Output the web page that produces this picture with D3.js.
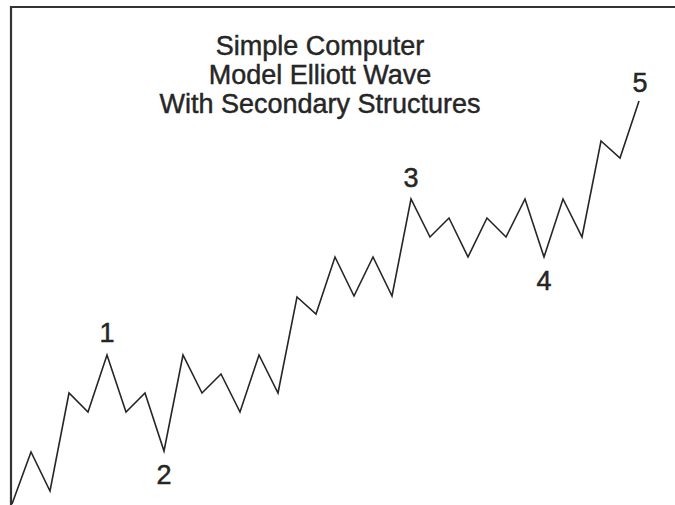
<!DOCTYPE html>
<html>
<head>
<meta charset="utf-8">
<script src="https://cdn.jsdelivr.net/npm/d3@7"></script>
<style>
  html, body { margin: 0; padding: 0; background: #fff; }
  svg { display: block; }
</style>
</head>
<body>
<svg id="chart" width="675" height="505"></svg>
<script>
// Wave swings: one value per turning point, in price units
const steps = d3.range(34);
const prices = [0, 52, 13, 111, 92, 149, 92, 111, 53, 149, 111, 130, 92, 149, 111,
  207, 190, 247, 208, 247, 208, 305, 267, 286, 247, 286, 267, 305, 247, 305, 267,
  363, 346, 403];
// Primary wave labels and the turning point each marks
const waveLabels = ["1", "2", "3", "4", "5"];
const waveSteps = [5, 8, 21, 28, 33];
const waveSide = ["top", "bottom", "top", "bottom", "top"];
const titleLines = ["Simple Computer", "Model Elliott Wave", "With Secondary Structures"];

const svg = d3.select("#chart");
const ink = "#262626";
const font = "Liberation Sans, Arial, Helvetica, sans-serif";

const x = d3.scaleLinear().domain([0, 33]).range([12, 639]);
const y = d3.scaleLinear().domain([0, 403]).range([504, 101]);

// frame: top and left edges
svg.append("line").attr("x1", 10).attr("x2", 675).attr("y1", 7).attr("y2", 7)
  .attr("stroke", "#333").attr("stroke-width", 2);
svg.append("line").attr("x1", 11).attr("x2", 11).attr("y1", 6).attr("y2", 505)
  .attr("stroke", "#333").attr("stroke-width", 2.2);

// title
svg.append("g").selectAll("text").data(titleLines).join("text")
  .attr("x", 320).attr("y", (d, i) => 55 + i * 29)
  .attr("text-anchor", "middle")
  .attr("font-family", font)
  .attr("font-size", 27)
  .attr("fill", ink)
  .attr("stroke", ink)
  .attr("stroke-width", 0.45)
  .text(d => d);

// wave path
const line = d3.line().x((d, i) => x(steps[i])).y(d => y(d));
svg.append("path").datum(prices)
  .attr("d", line)
  .attr("fill", "none")
  .attr("stroke", ink)
  .attr("stroke-width", 1.6)
  .attr("stroke-linejoin", "miter");

// wave numbers
const offsets = [-13, 33, -12, 33, -9];
svg.append("g").selectAll("text").data(waveLabels).join("text")
  .attr("x", (d, i) => x(waveSteps[i]) + (i === 4 ? 1 : 0))
  .attr("y", (d, i) => y(prices[waveSteps[i]]) + offsets[i])
  .attr("text-anchor", "middle")
  .attr("font-family", font)
  .attr("font-size", 27)
  .attr("fill", ink)
  .attr("stroke", ink)
  .attr("stroke-width", 0.5)
  .text(d => d);
</script>
</body>
</html>
